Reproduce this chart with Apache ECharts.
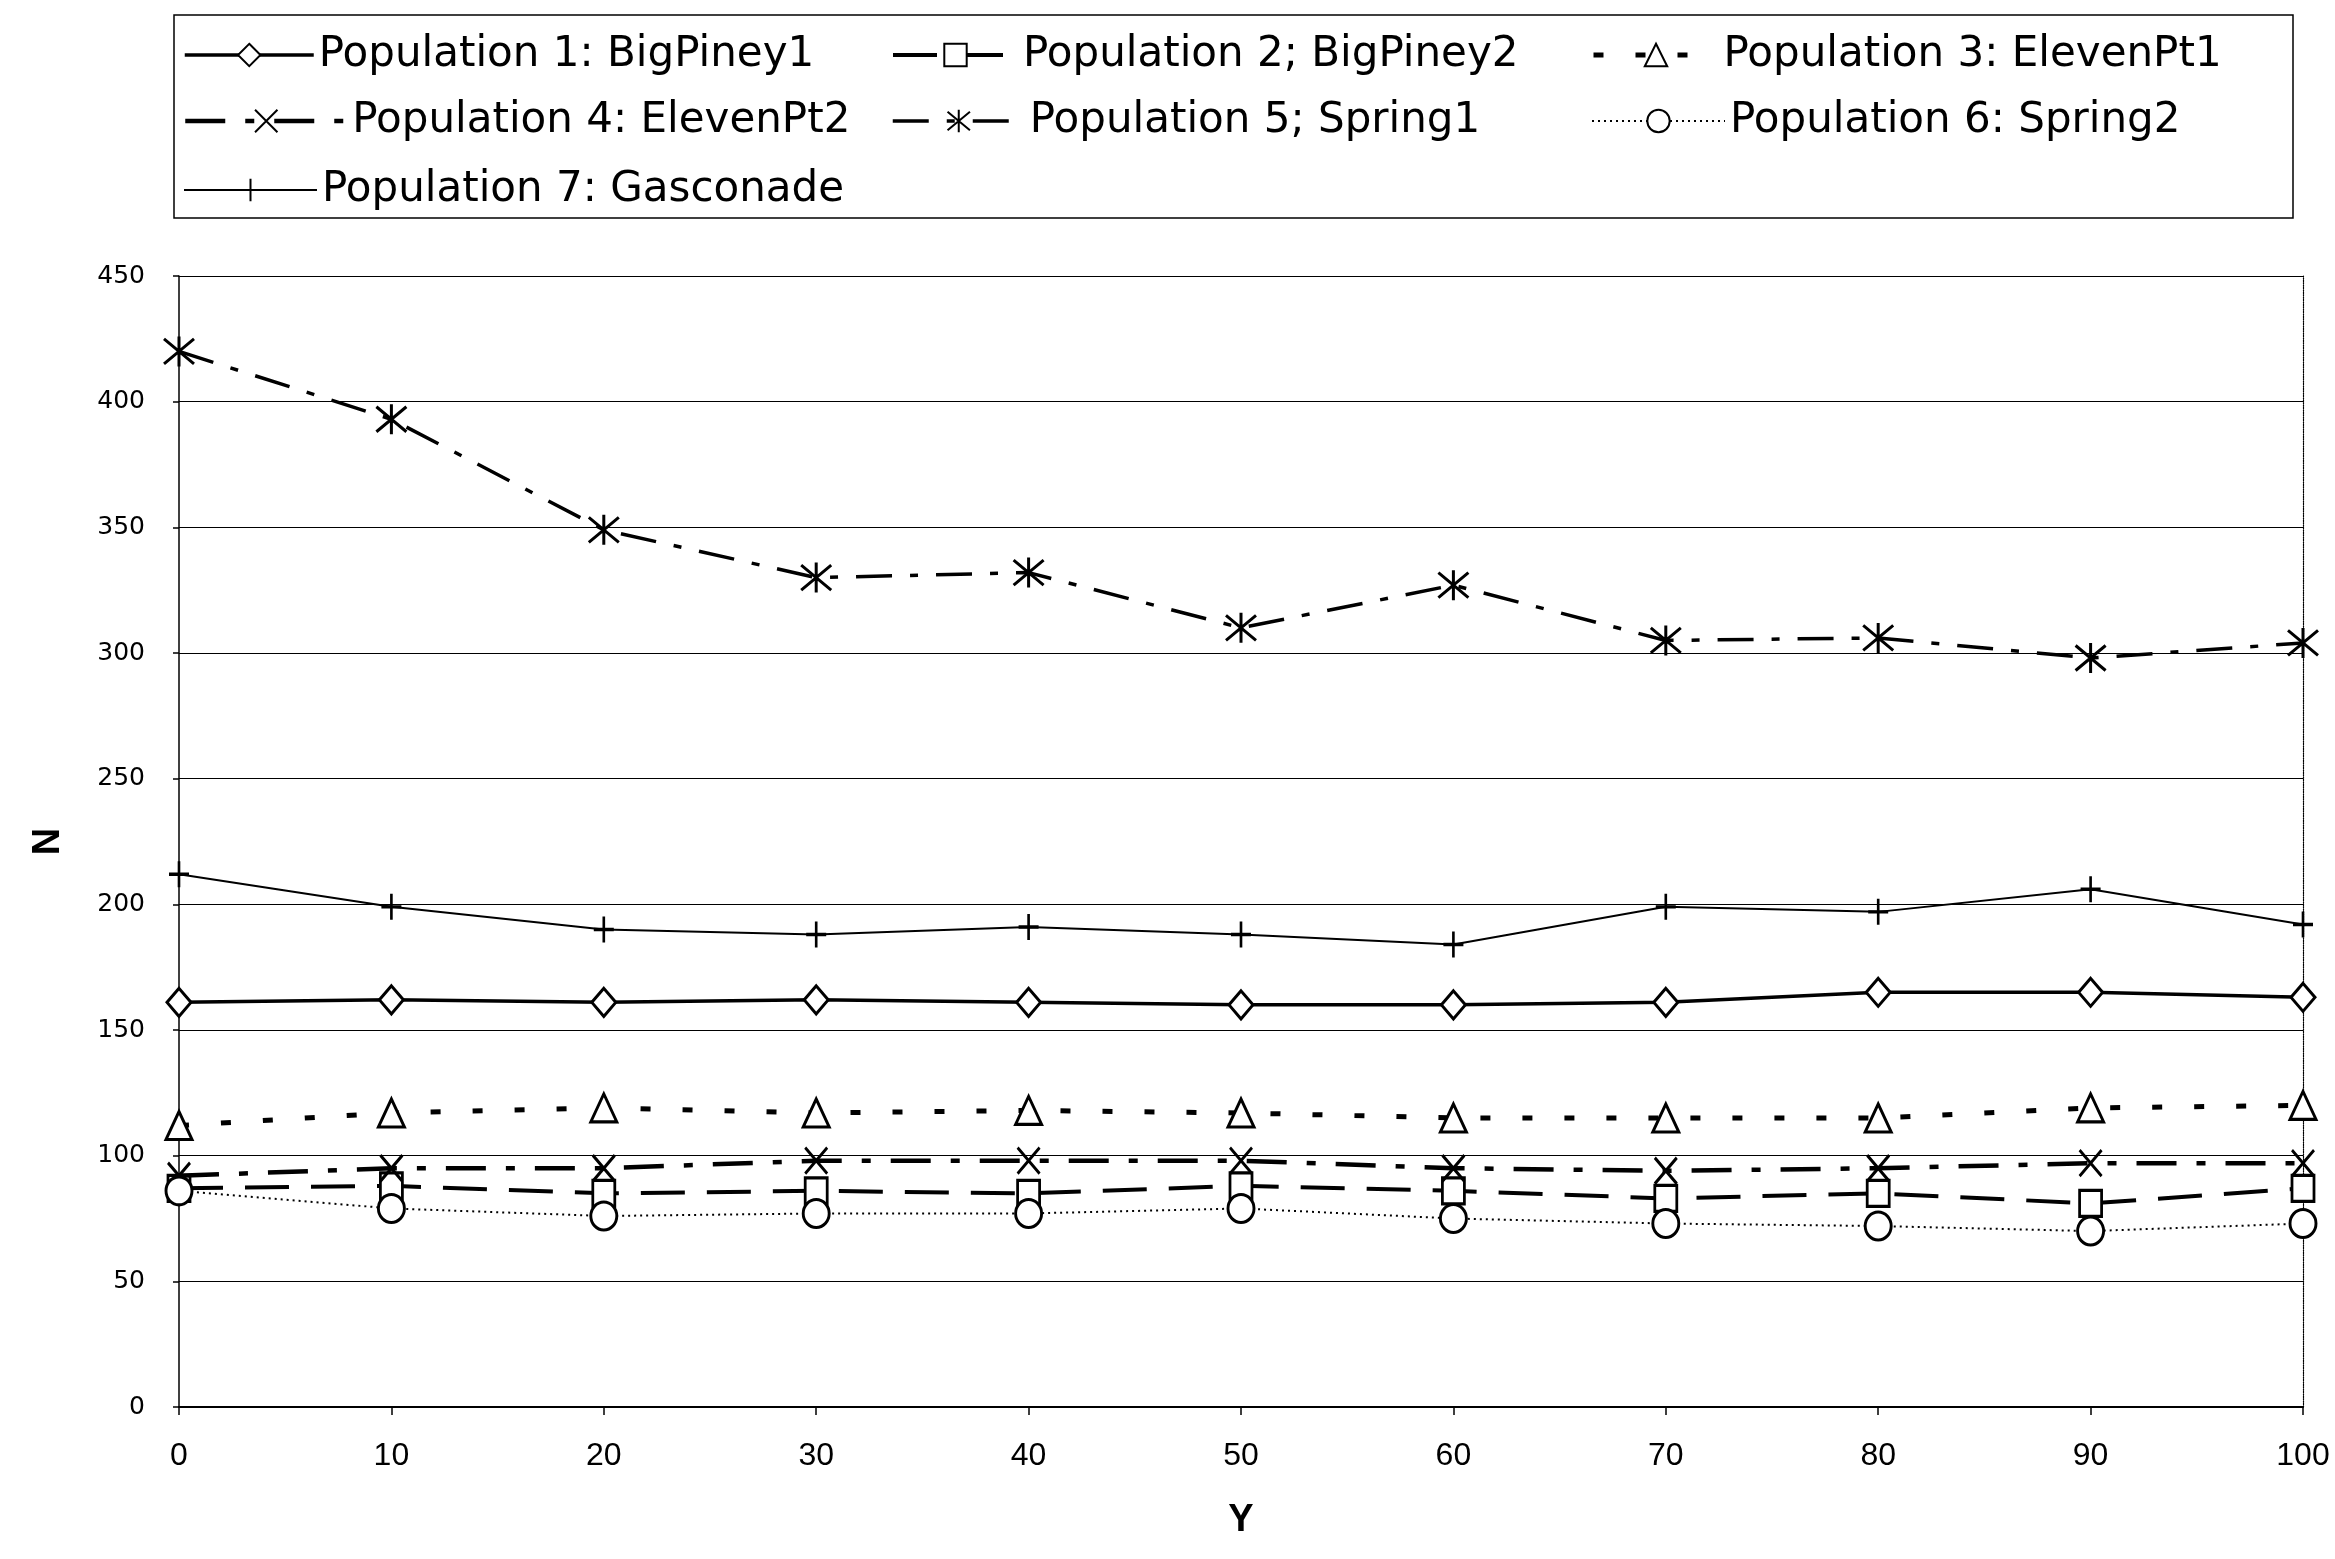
<!DOCTYPE html>
<html>
<head>
<meta charset="utf-8">
<title>N vs Y by population</title>
<script src="https://cdn.jsdelivr.net/npm/echarts@6/dist/echarts.min.js"></script>
<style>
  html, body { margin: 0; padding: 0; background: #fff; }
  #chart { width: 2335px; height: 1559px; }
</style>
</head>
<body>
<div id="chart"></div>
<script>
// X positions (Y) and tick labels
const xValues = [0, 10, 20, 30, 40, 50, 60, 70, 80, 90, 100];
const yTicks = [0, 50, 100, 150, 200, 250, 300, 350, 400, 450];

// Series names
const seriesNames = [
  'Population 1: BigPiney1',
  'Population 2; BigPiney2',
  'Population 3: ElevenPt1',
  'Population 4: ElevenPt2',
  'Population 5; Spring1',
  'Population 6: Spring2',
  'Population 7: Gasconade'
];

// N values for each population
const bigPiney1 = [161, 162, 161, 162, 161, 160, 160, 161, 165, 165, 163];
const bigPiney2 = [87, 88, 85, 86, 85, 88, 86, 83, 85, 81, 87];
const elevenPt1 = [112, 117, 119, 117, 118, 117, 115, 115, 115, 119, 120];
const elevenPt2 = [92, 95, 95, 98, 98, 98, 95, 94, 95, 97, 97];
const spring1   = [420, 393, 349, 330, 332, 310, 327, 305, 306, 298, 304];
const spring2   = [86, 79, 76, 77, 77, 79, 75, 73, 72, 70, 73];
const gasconade = [212, 199, 190, 188, 191, 188, 184, 199, 197, 206, 192];

const valuesList = [bigPiney1, bigPiney2, elevenPt1, elevenPt2, spring1, spring2, gasconade];

const pair = arr => xValues.map((x, i) => [x, arr[i]]);

// Marker shapes
const X_PATH = 'path://M0,0L20,24M20,0L0,24';
const STAR_PATH = 'path://M0,2L20,22M20,2L0,22M10,0L10,24';
const PLUS_PATH = 'path://M0,12L20,12M10,0L10,24';

const styles = [
  { symbol: 'diamond', size: [24, 28], line: { width: 3.5, type: 'solid' } },
  { symbol: 'rect', size: [22, 26], line: { width: 4, type: [44, 22] } },
  { symbol: 'triangle', size: [26, 28], line: { width: 5, type: [10, 32] } },
  { symbol: X_PATH, size: [22, 26], line: { width: 4.5, type: [40, 20, 9, 20] } },
  { symbol: STAR_PATH, size: [30, 30], line: { width: 3.5, type: [36, 18, 8, 18] } },
  { symbol: 'circle', size: [26, 28], line: { width: 2, type: [2, 4] } },
  { symbol: PLUS_PATH, size: [20, 26], line: { width: 2, type: 'solid' } }
];

const series = seriesNames.map((name, i) => ({
  name: name,
  type: 'line',
  data: pair(valuesList[i]),
  symbol: styles[i].symbol,
  symbolSize: styles[i].size,
  showAllSymbol: true,
  lineStyle: { color: '#000', width: styles[i].line.width, type: styles[i].line.type },
  itemStyle: { color: '#fff', borderColor: '#000', borderWidth: 3 },
  emphasis: { disabled: true },
  animation: false,
  z: 3 + i
}));

// Legend layout: one legend per entry so the three columns line up
const legendSpots = [
  { left: 183, top: 34, w: 129 },
  { left: 891, top: 34, w: 125 },
  { left: 1591, top: 34, w: 125 },
  { left: 183, top: 100, w: 162 },
  { left: 891, top: 100, w: 132 },
  { left: 1591, top: 100, w: 133 },
  { left: 183, top: 169, w: 133 }
];

const legends = seriesNames.map((name, i) => ({
  data: [name],
  left: legendSpots[i].left,
  top: legendSpots[i].top,
  padding: 0,
  itemWidth: legendSpots[i].w,
  itemHeight: 28,
  selectedMode: false,
  lineStyle: { color: '#000', width: styles[i].line.width, type: styles[i].line.type },
  textStyle: { fontFamily: 'DejaVu Sans', fontSize: 42, color: '#000' }
}));

const chart = echarts.init(document.getElementById('chart'), null, { renderer: 'canvas' });

chart.setOption({
  backgroundColor: '#fff',
  animation: false,
  legend: legends,
  graphic: [{
    type: 'rect',
    shape: { x: 174, y: 15, width: 2119, height: 203 },
    style: { fill: 'none', stroke: '#000', lineWidth: 1.5 },
    silent: true
  }],
  grid: { left: 179, right: 32, top: 276, bottom: 152, containLabel: false },
  xAxis: [{
    type: 'value',
    min: 0, max: 100, interval: 10,
    name: 'Y',
    nameLocation: 'middle',
    nameGap: 95,
    nameTextStyle: { fontFamily: 'Liberation Sans', fontSize: 38, fontWeight: 'bold', color: '#000' },
    axisLine: { show: true, onZero: false, lineStyle: { color: '#000', width: 2 } },
    axisTick: { show: true, length: 8, lineStyle: { color: '#000', width: 1.5 } },
    axisLabel: {
      margin: 33,
      fontFamily: 'Liberation Sans', fontSize: 32, color: '#000',
      formatter: v => String(v)
    },
    splitLine: { show: false }
  }, {
    type: 'value',
    position: 'top',
    min: 0, max: 100, interval: 10,
    axisLine: { show: true, onZero: false, lineStyle: { color: '#000', width: 1.2, type: 'dotted' } },
    axisTick: { show: false },
    axisLabel: { show: false },
    splitLine: { show: false }
  }],
  yAxis: [{
    type: 'value',
    min: yTicks[0], max: yTicks[yTicks.length - 1], interval: 50,
    name: 'N',
    nameLocation: 'middle',
    nameGap: 111,
    nameRotate: 90,
    nameTextStyle: { fontFamily: 'Liberation Sans', fontSize: 38, fontWeight: 'bold', color: '#000' },
    axisLine: { show: true, onZero: false, lineStyle: { color: '#000', width: 1.5 } },
    axisTick: { show: true, length: 6, lineStyle: { color: '#000', width: 1.5 } },
    axisLabel: {
      margin: 34,
      fontFamily: 'DejaVu Sans', fontSize: 25, color: '#000'
    },
    splitLine: { show: true, lineStyle: { color: '#000', width: 1.2 } }
  }, {
    type: 'value',
    position: 'right',
    min: yTicks[0], max: yTicks[yTicks.length - 1], interval: 50,
    axisLine: { show: true, onZero: false, lineStyle: { color: '#000', width: 1.2, type: 'dotted' } },
    axisTick: { show: false },
    axisLabel: { show: false },
    splitLine: { show: false }
  }],
  series: series
});
</script>
</body>
</html>
